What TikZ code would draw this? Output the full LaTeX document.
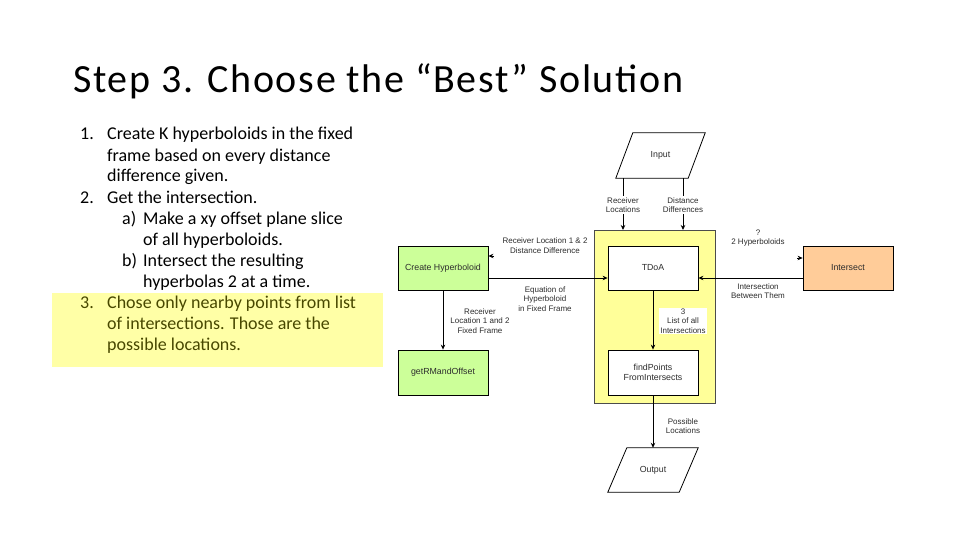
\documentclass[tikz,border=0pt]{standalone}
\usepackage{fontspec}
\setmainfont{Carlito}
\newfontfamily\diagfont{Liberation Sans}
\usetikzlibrary{arrows.meta}
\definecolor{boxgreen}{RGB}{204,255,153}
\definecolor{boxorange}{RGB}{255,204,153}
\definecolor{boxyellow}{RGB}{255,255,153}
\definecolor{hlyellow}{RGB}{255,255,166}
\definecolor{olivetext}{RGB}{72,72,0}
\definecolor{labelgray}{RGB}{45,45,45}
\begin{document}
\begin{tikzpicture}[x=1pt,y=-1pt,
  procbox/.style={draw=black,line width=0.8pt,minimum width=90pt,minimum height=44pt,inner sep=1pt,align=center,
    font=\diagfont\fontsize{8.8}{10.5}\selectfont,text=labelgray},
  iobox/.style={draw=none,minimum width=89pt,minimum height=45pt,inner sep=0pt,
    font=\diagfont\fontsize{8.8}{10.5}\selectfont,text=labelgray},
  ioshape/.style={draw=black,line width=0.8pt},
  elabel/.style={font=\diagfont\fontsize{8}{9.5}\selectfont,text=labelgray,align=center,inner sep=1pt},
  conn/.style={line width=0.9pt,-{Stealth[length=5pt,width=4.5pt]}},
  listtext/.style={anchor=base west,font=\fontsize{18}{21}\selectfont,inner sep=0pt}
]
\useasboundingbox (0,0) rectangle (960,540);
\fill[white] (0,0) rectangle (960,540);

% title
\node[anchor=base west,inner sep=0pt,font=\fontsize{40}{48}\selectfont\addfontfeature{LetterSpace=4.2}] (title) at (73,93) {Step 3. Choose the “Best” Solution};

% highlight
\node[fill=hlyellow,anchor=north west,minimum width=331pt,minimum height=74pt,inner sep=0pt] (hl) at (52,293) {};

% list
\node[listtext] (n1) at (80,140) {1.};
\node[listtext] (t1a) at (107,140) {Create K hyperboloids in the fixed};
\node[listtext] (t1b) at (107,161) {frame based on every distance};
\node[listtext] (t1c) at (107,182) {difference given.};
\node[listtext] (n2) at (80,203) {2.};
\node[listtext] (t2) at (107,203) {Get the intersection.};
\node[listtext] (na) at (122,224) {a)};
\node[listtext] (ta1) at (143,224) {Make a xy offset plane slice};
\node[listtext] (ta2) at (143,245) {of all hyperboloids.};
\node[listtext] (nb) at (122,266) {b)};
\node[listtext] (tb1) at (143,266) {Intersect the resulting};
\node[listtext] (tb2) at (143,287) {hyperbolas 2 at a time.};
\node[listtext,text=olivetext] (n3) at (80,308) {3.};
\node[listtext,text=olivetext] (t3a) at (107,308) {Chose only nearby points from list};
\node[listtext,text=olivetext] (t3b) at (107,329) {of intersections. Those are the};
\node[listtext,text=olivetext] (t3c) at (107,350) {possible locations.};

% group box
\node[draw=black!70,line width=0.6pt,fill=boxyellow,anchor=north west,minimum width=121pt,minimum height=173pt,inner sep=0pt] (group) at (594,230) {};

% input / output parallelograms
\node[iobox] (input) at (660.5,155.5) {Input};
\draw[ioshape] (input.south west) -- ([xshift=17pt]input.north west) -- (input.north east) -- ([xshift=-17pt]input.south east) -- cycle;
\node[iobox,minimum width=90pt,minimum height=44pt] (output) at (653,470) {Output};
\draw[ioshape] (output.south west) -- ([xshift=19pt]output.north west) -- (output.north east) -- ([xshift=-19pt]output.south east) -- cycle;

% process boxes
\node[procbox,fill=boxgreen] (create) at (443,268) {Create Hyperboloid};
\node[procbox,fill=boxgreen,minimum height=45pt] (getrm) at (443,372.5) {getRMandOffset};
\node[procbox,fill=white] (tdoa) at (653,268) {TDoA};
\node[procbox,fill=white,minimum height=45pt] (findp) at (653,372.5) {findPoints\\FromIntersects};
\node[procbox,fill=boxorange] (intersect) at (848,268) {Intersect};

% helper coordinates
\coordinate (rx) at (623,0);
\coordinate (dx) at (683,0);
\coordinate (yline) at (0,278);
\coordinate (c1) at (494,256);
\coordinate (c2) at (797,258);

% connectors
\draw[conn] (input.south -| rx) -- (group.north -| rx);
\draw[conn] (input.south -| dx) -- (group.north -| dx);
\draw[conn] (create.east |- yline) -- (tdoa.west |- yline);
\draw[conn] (intersect.west |- yline) -- (tdoa.east |- yline);
\draw[conn] (create) -- (getrm);
\draw[conn] (tdoa) -- (findp);
\draw[conn] (findp) -- (output);
\draw[conn] (c1) -- (create.east |- c1);
\draw[conn] (c2) -- (intersect.west |- c2);

% labels
\node[elabel,fill=white] (lrl) at (623,205) {Receiver\\Locations};
\node[elabel,fill=white] (ldd) at (683,205) {Distance\\Differences};
\node[elabel] (lrd) at (545,245.5) {Receiver Location 1 \& 2\\Distance Difference};
\node[elabel] (leq) at (545,299) {Equation of\\Hyperboloid\\in Fixed Frame};
\node[elabel] (lrf) at (480,321) {Receiver\\Location 1 and 2\\Fixed Frame};
\node[elabel,fill=white] (lli) at (683,321) {3\\List of all\\Intersections};
\node[elabel] (lhy) at (758,238) {?\\2 Hyperboloids};
\node[elabel] (lib) at (758,291) {Intersection\\Between Them};
\node[elabel] (lpl) at (683,426) {Possible\\Locations};
\end{tikzpicture}
\end{document}
